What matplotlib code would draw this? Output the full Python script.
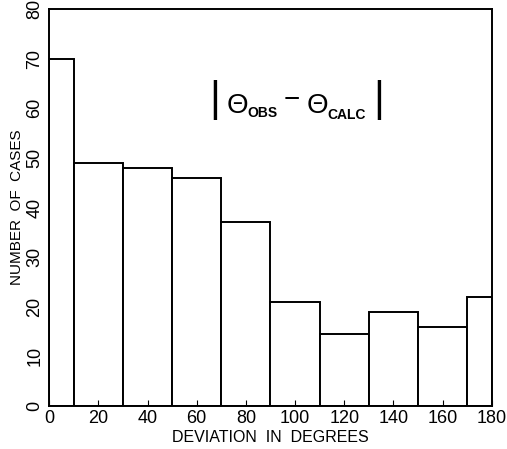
import matplotlib
matplotlib.use("Agg")
import matplotlib.pyplot as plt
import numpy as np

# bin edges (degrees) and counts
bin_edges = [0, 10, 30, 50, 70, 90, 110, 130, 150, 170, 180]
counts = [70, 49, 48, 46, 37, 21, 14.5, 19, 16, 22]
xticks = [0, 20, 40, 60, 80, 100, 120, 140, 160, 180]
yticks = [0, 10, 20, 30, 40, 50, 60, 70, 80]

plt.rcParams['font.family'] = ['Liberation Sans', 'DejaVu Sans']

fig = plt.figure(figsize=(5.07, 4.49), dpi=100)
ax = fig.add_axes([0.097, 0.096, 0.873, 0.884])

edges = np.array(bin_edges)
ax.bar(edges[:-1], counts, width=np.diff(edges), align='edge',
       facecolor='white', edgecolor='black', linewidth=1.4)

ax.set_xlim(0, 180)
ax.set_ylim(0, 80)
ax.set_xticks(xticks)
ax.set_yticks(yticks)
ax.set_yticklabels([str(v) for v in yticks], rotation=90, va='center')
ax.tick_params(axis='x', direction='in', length=4, labelsize=13, pad=3)
ax.tick_params(axis='y', direction='in', length=0, labelsize=13, pad=4)
for s in ax.spines.values():
    s.set_linewidth(1.4)

ax.set_xlabel("DEVIATION  IN  DEGREES", fontsize=11.5, labelpad=2)
ax.set_ylabel("NUMBER  OF  CASES", fontsize=11, labelpad=2)

# |Θ_OBS − Θ_CALC| label, built from pieces
ax.text(67.4, 61.7, "|", fontsize=30, ha='center', va='center')
ax.text(134.1, 61.7, "|", fontsize=30, ha='center', va='center')
ax.text(72.3, 59.0, "Θ", fontsize=20, ha='left', va='baseline')
ax.text(80.8, 58.2, "OBS", fontsize=10, fontweight='bold', ha='left', va='baseline')
ax.text(98.7, 61.7, "−", fontsize=20, ha='center', va='center')
ax.text(104.8, 59.0, "Θ", fontsize=20, ha='left', va='baseline')
ax.text(113.2, 57.8, "CALC", fontsize=10, fontweight='bold', ha='left', va='baseline')

fig.savefig("out.png", dpi=100)
